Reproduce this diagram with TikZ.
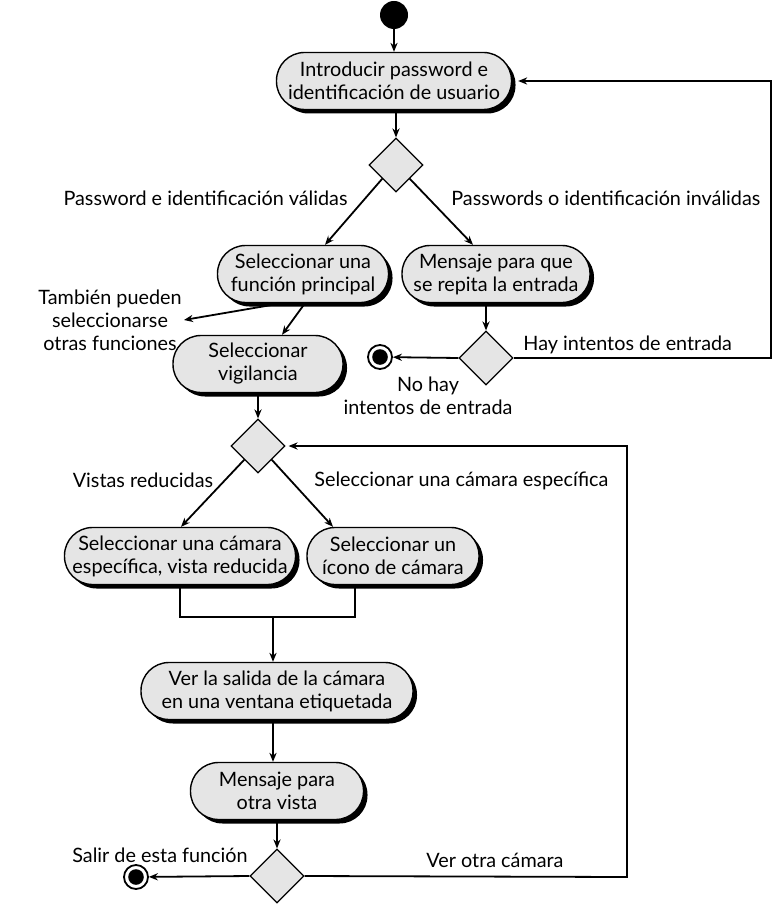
\documentclass[tikz,border=0pt]{standalone}
\usepackage{fontspec}
\setmainfont{Lato}
\usetikzlibrary{shapes.geometric,shadows,calc,arrows.meta}

\begin{document}
\begin{tikzpicture}[x=0.5pt,y=-0.5pt,
    font=\fontsize{9.9}{11.5}\selectfont,
    act/.style={draw, line width=0.7pt, fill=black!10, rounded corners=14pt,
        align=center, minimum height=28.5pt, inner xsep=2pt,
        drop shadow={shadow xshift=2pt, shadow yshift=-2pt, fill=black, opacity=1}},
    dec/.style={diamond, draw, line width=0.6pt, fill=black!10,
        minimum width=27pt, minimum height=27pt, inner sep=0pt},
    fin/.style={circle, draw, line width=0.9pt, fill=white, minimum size=12pt, inner sep=0pt,
        path picture={\fill[black] (path picture bounding box.center) circle (3.9pt);}},
    arr/.style={-{Stealth[length=4.5pt,width=3.6pt]}, line width=0.9pt},
    lbl/.style={inner sep=1pt, align=center}]
    \useasboundingbox (0,0) rectangle (778,909);

    % Entrada
    \node[circle, fill=black, minimum size=14pt, inner sep=0pt] (ini) at (394,15) {};
    \node[act, minimum width=117.5pt] (intro) at (394,81) {Introducir password e\\identificación de usuario};
    \node[dec] (d1) at (396,165) {};
    \node[act, minimum width=85.5pt] (func) at (303,274) {Seleccionar una\\función principal};
    \node[act, minimum width=94pt] (msg) at (496,274) {Mensaje para que\\se repita la entrada};
    \node[lbl] (otras) at (110,320) {También pueden\\seleccionarse\\otras funciones};
    \node[act, minimum width=85pt] (vig) at (258,364) {Seleccionar\\vigilancia};
    \node[dec] (d2) at (486,358) {};
    \node[fin] (fin1) at (380,357) {};

    % Camaras
    \node[dec] (d3) at (258,446) {};
    \node[act, minimum width=115.5pt] (reduc) at (180,556) {Seleccionar una cámara\\específica, vista reducida};
    \node[act, minimum width=86pt] (icono) at (393,556) {Seleccionar un\\ícono de cámara};
    \node[act, minimum width=136pt] (salida) at (277,691) {Ver la salida de la cámara\\en una ventana etiquetada};
    \node[act, minimum width=86.5pt] (otra) at (277,791) {Mensaje para\\otra vista};
    \node[dec] (d4) at (277,876) {};
    \node[fin] (fin2) at (136,877) {};

    % Etiquetas
    \node[lbl, anchor=east] (val) at (350,198) {Password e identificación válidas};
    \node[lbl, anchor=west] (inv) at (449,198) {Passwords o identificación inválidas};
    \node[lbl, anchor=west] (hay) at (521,345) {Hay intentos de entrada};
    \node[lbl] (nohay) at (428,396) {No hay\\intentos de entrada};
    \node[lbl] (vistas) at (143,480) {Vistas reducidas};
    \node[lbl, anchor=west] (espec) at (312,481) {Seleccionar una cámara específica};
    \node[lbl] (salir) at (160,855) {Salir de esta función};
    \node[lbl] (vercam) at (495,860) {Ver otra cámara};

    % Flechas
    \draw[arr] (ini) -- (intro);
    \draw[arr] (intro.south -| d1) -- (d1.north);
    \draw[arr] (d1.south west) -- ($(func.north)+(22,0)$);
    \draw[arr] (d1.south east) -- ($(msg.north)+(-23,0)$);
    \draw[arr] ($(func.south)+(-21,0)$) -- (otras.east);
    \draw[arr] ($(func.south)+(2,0)$) -- ($(vig.north)+(24,0)$);
    \draw[arr] (msg.south -| d2) -- (d2.north);
    \draw[arr] (d2.west) -- (fin1);
    \coordinate (vuelta1) at (771,358);
    \draw[arr] (d2.east) -- (vuelta1) |- ($(intro.east)+(6,0)$);
    \draw[arr] (vig) -- (d3);
    \draw[arr] (d3.south west) -- ($(reduc.north)+(1,0)$);
    \draw[arr] (d3.south east) -- ($(icono.north)+(-60,0)$);
    \coordinate (junta) at (273,617);
    \draw[line width=0.9pt] (reduc.south) -- (reduc.south |- junta)
        -- ($(icono.south |- junta)+(-38,0)$) -- ($(icono.south)+(-38,0)$);
    \draw[arr] (junta) -- (junta |- salida.north);
    \draw[arr] (salida.south -| junta) -- (junta |- otra.north);
    \draw[arr] (otra) -- (d4);
    \draw[arr] (d4.west) -- (fin2);
    \coordinate (vuelta2) at (627,877);
    \draw[arr] (d4.east) -- (vuelta2) |- ($(d3.east)+(3,0)$);
\end{tikzpicture}
\end{document}
